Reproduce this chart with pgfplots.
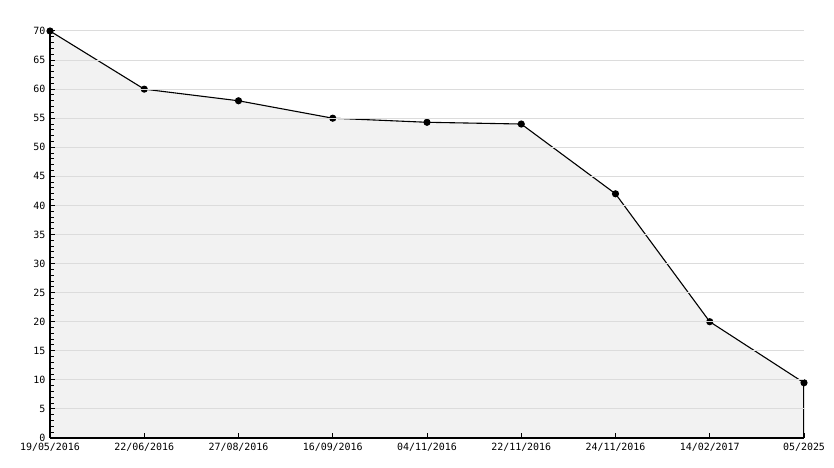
\documentclass[border=0pt]{standalone}
\usepackage{pgfplots}
\pgfplotsset{compat=1.18}
\usepackage{fontspec}
\setmainfont{DejaVu Sans Mono}
\definecolor{areafill}{HTML}{F2F2F2}
\definecolor{gridgray}{HTML}{DCDCDC}
\begin{document}
\begin{tikzpicture}
\begin{axis}[
    at={(50bp,30bp)}, anchor=south west,
    scale only axis,
    width=754bp, height=407bp,
    xmin=0, xmax=8,
    ymin=0, ymax=70,
    axis x line=bottom, axis y line=left,
    axis line style={-, line width=1.5bp},
    xtick={0,...,8},
    xticklabels={19/05/2016,22/06/2016,27/08/2016,16/09/2016,04/11/2016,22/11/2016,24/11/2016,14/02/2017,05/2025},
    ytick={0,5,...,70},
    minor y tick num=4,
    tick align=inside,
    major tick length=5bp, minor tick length=4bp,
    tick style={black, line width=1bp},
    ymajorgrids,
    grid style={gridgray, line width=1bp},
    set layers, axis on top,
    every axis grid/.append style={/pgfplots/on layer=axis background},
    ticklabel style={font=\fontsize{10}{11}\selectfont},
    yticklabel style={xshift=-1bp},
    xticklabel style={yshift=-2bp},
    /pgf/number format/assume math mode=true,
]
% area under the curve
\addplot[fill=areafill, draw=none] coordinates {
    (0,70) (1,60) (2,58) (3,55) (4,54.3) (5,54) (6,42) (7,20) (8,9.5)
} \closedcycle;
% right edge of the area
\addplot[black, line width=1.2bp] coordinates {(8,0) (8,9.5)};
% data line
\addplot[black, line width=1.1bp, mark=*, mark size=3bp] coordinates {
    (0,70) (1,60) (2,58) (3,55) (4,54.3) (5,54) (6,42) (7,20) (8,9.5)
};
\end{axis}
\path (0,0) rectangle (834bp,468bp);
\end{tikzpicture}
\end{document}
